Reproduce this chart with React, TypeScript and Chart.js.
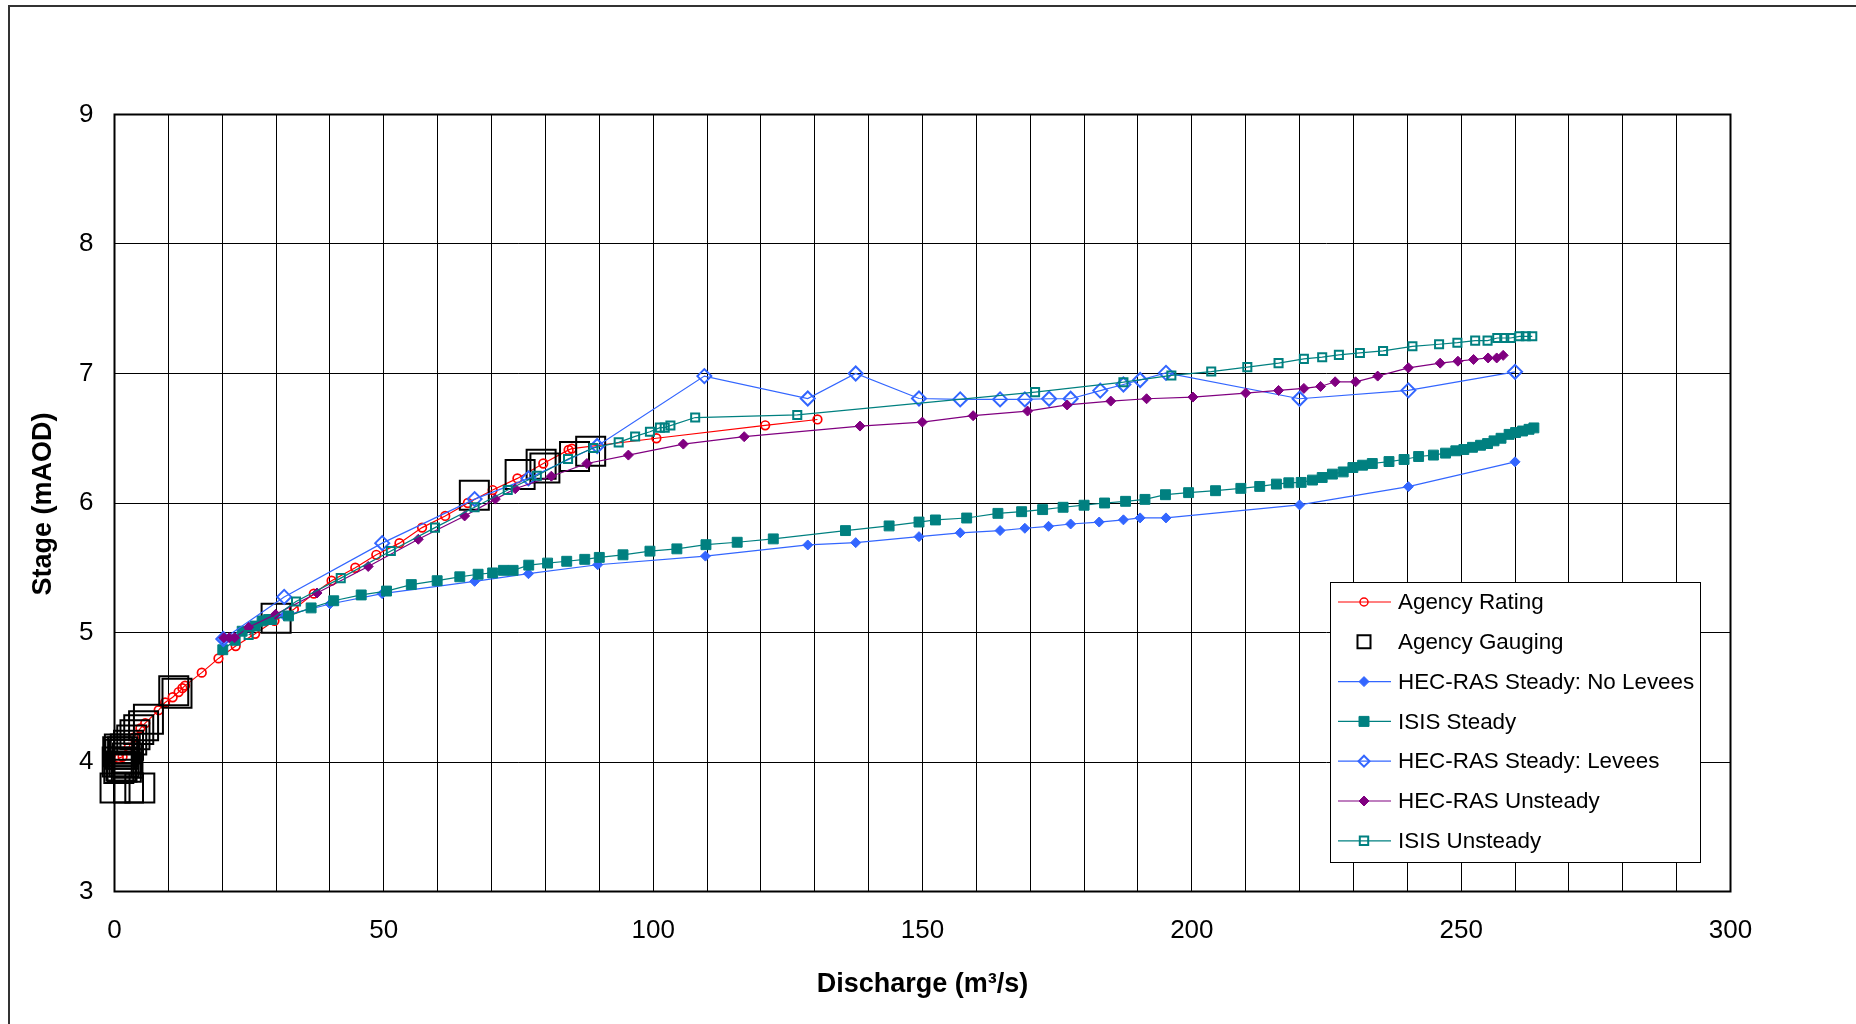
import React, { useEffect, useRef } from "react";
import { Chart, registerables } from "chart.js";

Chart.register(...registerables);

// ---------- DATA ----------
const xTickStep = 10;
const xLabelEvery = 50;
const yTicks = [3, 4, 5, 6, 7, 8, 9];

const seriesNames = [
  "Agency Rating",
  "Agency Gauging",
  "HEC-RAS Steady: No Levees",
  "ISIS Steady",
  "HEC-RAS Steady: Levees",
  "HEC-RAS Unsteady",
  "ISIS Unsteady",
];

const ratingQ = [0.8, 1.5, 2.6, 3.6, 4.8, 5.7, 8.2, 9.4, 10.8, 11.9, 12.6, 13.1, 16.2, 19.3, 22.5, 26.1, 29.7, 33.3, 37.0, 40.3, 44.7, 48.6, 52.9, 57.1, 61.4, 65.6, 70.2, 74.8, 79.6, 84.3, 84.9, 100.6, 120.8, 130.5];
const ratingH = [4.03, 4.04, 4.11, 4.19, 4.26, 4.30, 4.40, 4.46, 4.50, 4.54, 4.57, 4.59, 4.69, 4.80, 4.895, 4.99, 5.09, 5.18, 5.30, 5.40, 5.50, 5.60, 5.69, 5.81, 5.90, 6.00, 6.10, 6.19, 6.305, 6.41, 6.42, 6.50, 6.60, 6.645];

const gaugingQ = [0.1, 2.6, 4.7, 0.5, 0.8, 1.0, 1.2, 1.5, 1.8, 2.0, 2.2, 0.6, 1.4, 2.4, 0.9, 1.7, 2.5, 2.6, 3.2, 3.8, 4.5, 5.4, 6.3, 11.0, 11.6, 30.0, 66.8, 75.3, 79.2, 79.9, 85.4, 88.4];
const gaugingH = [3.80, 3.80, 3.80, 4.00, 3.95, 4.06, 3.97, 4.08, 4.00, 4.10, 3.96, 4.08, 3.96, 4.03, 4.10, 4.06, 3.99, 4.13, 4.17, 4.21, 4.25, 4.28, 4.33, 4.55, 4.53, 5.11, 6.06, 6.22, 6.30, 6.27, 6.36, 6.40];

const noLeveesQ = [20.2, 25, 31.5, 40, 49.7, 66.85, 76.85, 89.7, 109.7, 128.7, 137.6, 149.35, 157.0, 164.4, 169.0, 173.4, 177.5, 182.8, 187.3, 190.4, 195.2, 220.0, 240.2, 260.0];
const noLeveesH = [4.95, 5.04, 5.13, 5.22, 5.30, 5.395, 5.454, 5.523, 5.59, 5.676, 5.694, 5.74, 5.77, 5.787, 5.805, 5.82, 5.838, 5.853, 5.87, 5.885, 5.885, 5.985, 6.126, 6.318];

const isisSteadyQ = [20.1, 22.4, 23.7, 26.1, 27.4, 28.6, 29.2, 32.3, 36.5, 40.7, 45.8, 50.5, 55.1, 59.9, 64.1, 67.5, 70.2, 72.2, 74.0, 76.9, 80.4, 83.95, 87.3, 90.0, 94.4, 99.4, 104.4, 109.8, 115.6, 122.3, 135.7, 143.8, 149.35, 152.4, 158.2, 164.0, 168.4, 172.3, 176.1, 180.0, 183.8, 187.7, 191.3, 195.1, 199.4, 204.4, 209.1, 212.6, 215.7, 218.0, 220.3, 222.4, 224.2, 226.1, 228.1, 229.9, 231.7, 233.5, 236.6, 239.4, 242.1, 244.85, 247.1, 249.0, 250.5, 252.1, 253.6, 254.9, 256.1, 257.4, 258.9, 260.1, 261.4, 262.6, 263.5];
const isisSteadyH = [4.867, 4.94, 5.01, 5.05, 5.09, 5.10, 5.10, 5.128, 5.19, 5.245, 5.29, 5.32, 5.37, 5.40, 5.43, 5.45, 5.46, 5.48, 5.48, 5.52, 5.536, 5.55, 5.565, 5.58, 5.60, 5.628, 5.646, 5.678, 5.697, 5.723, 5.787, 5.823, 5.853, 5.869, 5.884, 5.92, 5.933, 5.949, 5.967, 5.983, 6.0, 6.013, 6.028, 6.064, 6.08, 6.095, 6.113, 6.128, 6.146, 6.156, 6.159, 6.177, 6.197, 6.223, 6.24, 6.274, 6.292, 6.305, 6.32, 6.336, 6.359, 6.37, 6.385, 6.403, 6.413, 6.43, 6.446, 6.459, 6.48, 6.5, 6.53, 6.544, 6.556, 6.569, 6.58];

const leveesQ = [20.2, 31.5, 49.7, 66.85, 76.85, 89.6, 109.5, 128.7, 137.6, 149.35, 157.0, 164.4, 169.0, 173.5, 177.5, 183.0, 187.3, 190.4, 195.2, 220.0, 240.2, 260.0];
const leveesH = [4.95, 5.275, 5.69, 6.03, 6.19, 6.44, 6.98, 6.807, 7.0, 6.807, 6.80, 6.80, 6.80, 6.805, 6.805, 6.868, 6.915, 6.95, 7.005, 6.805, 6.87, 7.013];

const unsteadyQ = [20.3, 21.3, 22.3, 24.9, 29.9, 37.6, 47.1, 56.4, 65.0, 70.7, 74.4, 81.1, 87.7, 95.4, 105.6, 116.9, 138.4, 149.97, 159.4, 169.5, 176.85, 184.95, 191.6, 200.2, 210.0, 216.1, 220.8, 223.9, 226.6, 230.4, 234.5, 240.2, 246.1, 249.4, 252.3, 255.0, 256.6, 257.8];
const unsteadyH = [4.96, 4.96, 4.96, 5.04, 5.14, 5.305, 5.51, 5.72, 5.90, 6.03, 6.11, 6.207, 6.305, 6.37, 6.455, 6.512, 6.594, 6.625, 6.674, 6.71, 6.757, 6.787, 6.805, 6.818, 6.849, 6.869, 6.885, 6.90, 6.936, 6.936, 6.98, 7.044, 7.08, 7.095, 7.108, 7.12, 7.12, 7.14];

const isisUnsteadyQ = [24.9, 33.7, 42.0, 51.3, 59.5, 66.85, 73.0, 78.4, 84.2, 88.9, 93.6, 96.65, 99.4, 101.25, 102.15, 103.2, 107.8, 126.75, 170.9, 187.3, 196.2, 203.6, 210.3, 216.1, 220.8, 224.2, 227.3, 231.2, 235.5, 240.95, 245.9, 249.3, 252.6, 254.9, 256.7, 258.0, 259.2, 260.8, 262.0, 263.2];
const isisUnsteadyH = [4.98, 5.24, 5.42, 5.63, 5.81, 5.967, 6.10, 6.21, 6.34, 6.425, 6.468, 6.514, 6.55, 6.582, 6.582, 6.598, 6.66, 6.68, 6.856, 6.933, 6.985, 7.015, 7.049, 7.08, 7.113, 7.126, 7.144, 7.159, 7.174, 7.21, 7.226, 7.238, 7.254, 7.254, 7.274, 7.274, 7.274, 7.287, 7.287, 7.287];

// ---------- STYLE ----------
const RED = "#FF0000";
const BLUE = "#3366FF";
const TEAL = "#008080";
const PURPLE = "#800080";
const FONT = "'Liberation Sans', Arial, sans-serif";
const W = 1856;
const H = 1024;

const pts = (xs: number[], ys: number[]) => xs.map((x, i) => ({ x, y: ys[i] }));

type Marker = { style: string; size: number; fill: string | null; stroke: string; lw: number; line: string | null };
const legendMarkers: Marker[] = [
  { style: "circle", size: 4, fill: null, stroke: RED, lw: 1.5, line: RED },
  { style: "square", size: 6.5, fill: null, stroke: "#000", lw: 2, line: null },
  { style: "diamond", size: 5, fill: BLUE, stroke: BLUE, lw: 1, line: BLUE },
  { style: "square", size: 5, fill: TEAL, stroke: TEAL, lw: 1, line: TEAL },
  { style: "diamond", size: 5.5, fill: null, stroke: BLUE, lw: 2, line: BLUE },
  { style: "diamond", size: 5, fill: PURPLE, stroke: PURPLE, lw: 1, line: PURPLE },
  { style: "square", size: 4.2, fill: null, stroke: TEAL, lw: 2, line: TEAL },
];

function drawMarker(ctx: CanvasRenderingContext2D, m: Marker, x: number, y: number) {
  ctx.beginPath();
  if (m.style === "circle") {
    ctx.arc(x, y, m.size, 0, Math.PI * 2);
  } else if (m.style === "square") {
    ctx.rect(x - m.size, y - m.size, m.size * 2, m.size * 2);
  } else {
    ctx.moveTo(x, y - m.size);
    ctx.lineTo(x + m.size, y);
    ctx.lineTo(x, y + m.size);
    ctx.lineTo(x - m.size, y);
    ctx.closePath();
  }
  if (m.fill) {
    ctx.fillStyle = m.fill;
    ctx.fill();
  }
  ctx.lineWidth = m.lw;
  ctx.strokeStyle = m.stroke;
  ctx.stroke();
}

const decorPlugin = {
  id: "decor",
  beforeDraw(chart: any) {
    const ctx = chart.ctx as CanvasRenderingContext2D;
    ctx.save();
    ctx.fillStyle = "#fff";
    ctx.fillRect(0, 0, W, H);
    // outer frame
    ctx.strokeStyle = "#333";
    ctx.lineWidth = 2;
    ctx.beginPath();
    ctx.moveTo(9, H);
    ctx.lineTo(9, 6);
    ctx.lineTo(W, 6);
    ctx.stroke();
    ctx.restore();
  },
  afterDraw(chart: any) {
    const ctx = chart.ctx as CanvasRenderingContext2D;
    const a = chart.chartArea;
    ctx.save();
    // plot area border
    ctx.strokeStyle = "#000";
    ctx.lineWidth = 2;
    ctx.strokeRect(a.left, a.top, a.right - a.left, a.bottom - a.top);

    // axis titles
    ctx.fillStyle = "#000";
    ctx.font = `bold 27px ${FONT}`;
    ctx.textAlign = "center";
    ctx.textBaseline = "middle";
    ctx.fillText("Discharge (m³/s)", (a.left + a.right) / 2, 985);
    ctx.save();
    ctx.translate(44, (a.top + a.bottom) / 2 + 1);
    ctx.rotate(-Math.PI / 2);
    ctx.fillText("Stage (mAOD)", 0, 0);
    ctx.restore();

    // legend
    const lx = 1330.5, ly = 582.5, lw = 370, lh = 280;
    ctx.fillStyle = "#fff";
    ctx.fillRect(lx, ly, lw, lh);
    ctx.strokeStyle = "#000";
    ctx.lineWidth = 1;
    ctx.strokeRect(lx, ly, lw, lh);
    ctx.font = `22.4px ${FONT}`;
    ctx.textAlign = "left";
    ctx.textBaseline = "middle";
    seriesNames.forEach((name, i) => {
      const y = 602 + i * 39.8;
      const m = legendMarkers[i];
      if (m.line) {
        ctx.strokeStyle = m.line;
        ctx.lineWidth = 1.2;
        ctx.beginPath();
        ctx.moveTo(1338, y);
        ctx.lineTo(1391, y);
        ctx.stroke();
      }
      drawMarker(ctx, m, 1364, y);
      ctx.fillStyle = "#000";
      ctx.fillText(name, 1398, y + 1);
    });
    ctx.restore();
  },
};

export default function App() {
  const ref = useRef<HTMLCanvasElement | null>(null);
  useEffect(() => {
    if (!ref.current) return;
    const clear = "rgba(0,0,0,0)";
    const chart = new Chart(ref.current, {
      type: "scatter",
      data: {
        datasets: [
          {
            label: seriesNames[0], data: pts(ratingQ, ratingH), showLine: true,
            borderColor: RED, backgroundColor: clear, borderWidth: 1.2,
            pointStyle: "circle", pointRadius: 4.3, pointBorderWidth: 1.7, pointBorderColor: RED, pointBackgroundColor: clear, order: 7,
          },
          {
            label: seriesNames[1], data: pts(gaugingQ, gaugingH), showLine: false,
            borderColor: "#000", backgroundColor: clear,
            pointStyle: "rect", pointRadius: 20.5, pointBorderWidth: 2, pointBorderColor: "#000", pointBackgroundColor: clear, order: 6, clip: false,
          },
          {
            label: seriesNames[2], data: pts(noLeveesQ, noLeveesH), showLine: true,
            borderColor: BLUE, backgroundColor: BLUE, borderWidth: 1.2,
            pointStyle: "rectRot", pointRadius: 5, pointBorderWidth: 1, pointBorderColor: BLUE, pointBackgroundColor: BLUE, order: 5,
          },
          {
            label: seriesNames[3], data: pts(isisSteadyQ, isisSteadyH), showLine: true,
            borderColor: TEAL, backgroundColor: TEAL, borderWidth: 1.2,
            pointStyle: "rect", pointRadius: 7, pointBorderWidth: 1, pointBorderColor: TEAL, pointBackgroundColor: TEAL, order: 4,
          },
          {
            label: seriesNames[4], data: pts(leveesQ, leveesH), showLine: true,
            borderColor: BLUE, backgroundColor: clear, borderWidth: 1.2,
            pointStyle: "rectRot", pointRadius: 7, pointBorderWidth: 2, pointBorderColor: BLUE, pointBackgroundColor: clear, order: 3,
          },
          {
            label: seriesNames[5], data: pts(unsteadyQ, unsteadyH), showLine: true,
            borderColor: PURPLE, backgroundColor: PURPLE, borderWidth: 1.2,
            pointStyle: "rectRot", pointRadius: 5, pointBorderWidth: 1, pointBorderColor: PURPLE, pointBackgroundColor: PURPLE, order: 2,
          },
          {
            label: seriesNames[6], data: pts(isisUnsteadyQ, isisUnsteadyH), showLine: true,
            borderColor: TEAL, backgroundColor: clear, borderWidth: 1.2,
            pointStyle: "rect", pointRadius: 5.7, pointBorderWidth: 2, pointBorderColor: TEAL, pointBackgroundColor: clear, order: 1,
          },
        ],
      },
      options: {
        responsive: false,
        animation: false,
        devicePixelRatio: 1,
        layout: { padding: { left: 0, top: 114.5, right: 125.5, bottom: 0 } },
        plugins: { legend: { display: false }, tooltip: { enabled: false } },
        elements: { line: { tension: 0 } },
        scales: {
          x: {
            type: "linear", min: 0, max: 300,
            afterFit: (s: any) => { s.height = 132.5; },
            grid: { color: "#000", lineWidth: 1, drawTicks: false },
            border: { display: false },
            ticks: {
              stepSize: xTickStep, autoSkip: false, maxRotation: 0, padding: 24,
              color: "#000", font: { family: FONT, size: 26 },
              callback: (v: any) => (Number(v) % xLabelEvery === 0 ? String(v) : ""),
            },
          },
          y: {
            type: "linear", min: yTicks[0], max: yTicks[yTicks.length - 1],
            afterFit: (s: any) => { s.width = 114.5; },
            grid: { color: "#000", lineWidth: 1, drawTicks: false },
            border: { display: false },
            ticks: {
              stepSize: 1, padding: 21, color: "#000", font: { family: FONT, size: 26 },
            },
          },
        },
      } as any,
      plugins: [decorPlugin],
    });
    return () => chart.destroy();
  }, []);
  return (
    <div style={{ position: "absolute", left: 0, top: 0, width: W, height: H, background: "#fff" }}>
      <canvas ref={ref} width={W} height={H} style={{ display: "block", width: W, height: H }} />
    </div>
  );
}
